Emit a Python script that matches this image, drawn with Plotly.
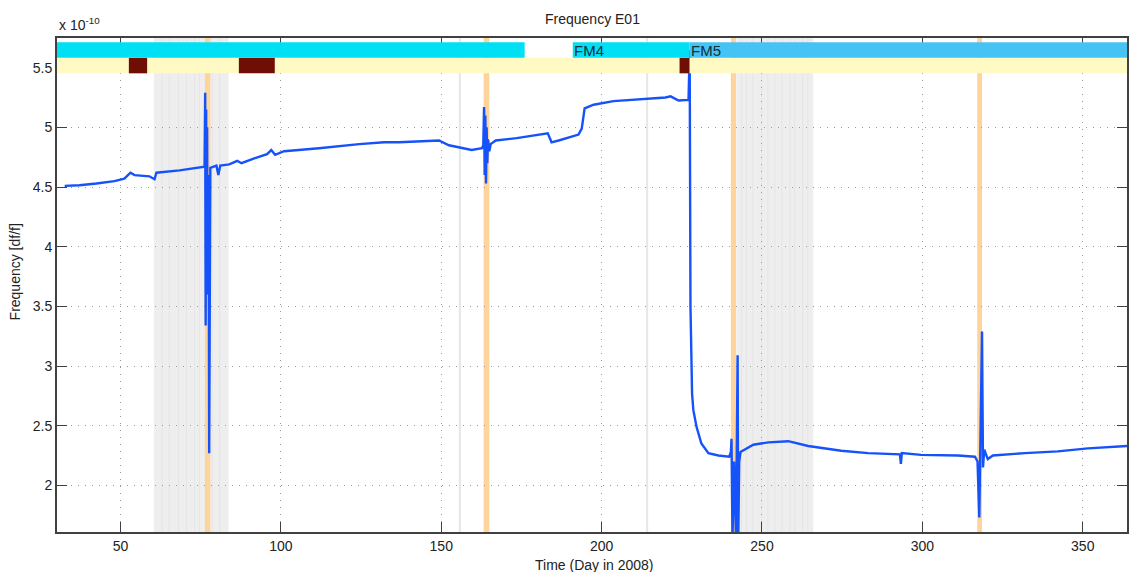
import plotly.graph_objects as go

# ---------------- data (frequency in units of 1e-10) ----------------
days = [32.6, 37.2, 42.5, 48.1, 51.2, 53.1, 54.4, 59.0, 60.6, 61.2, 68.4, 75.8,
        76.2, 76.4, 76.55, 76.7, 76.85, 77.0, 77.15, 77.3, 77.5, 77.65, 77.8, 78.0,
        79.9, 80.5, 81.1, 83.9, 86.4, 87.7, 91.7, 95.7, 97.0, 98.2, 101.0, 111.9,
        124.4, 132.2, 136.8, 143.1, 149.3, 152.4, 159.5, 162.7,
        163.1, 163.35, 163.55, 163.75, 163.95, 164.15, 164.35, 164.6, 165.0, 165.4,
        167.0, 173.5, 180.4, 183.2, 184.4, 186.6, 192.8, 193.8, 194.7, 197.5, 203.7,
        211.5, 219.9, 221.5, 224.0, 227.1,
        227.45, 227.7, 228.2, 228.6, 229.6, 231.1, 233.3, 236.4, 239.8,
        240.3, 240.5, 240.8, 241.3, 241.9, 242.4, 242.6, 242.9, 243.3,
        247.3, 252.0, 258.2, 264.4, 274.7, 283.1, 290.3, 293.0, 293.3, 293.6,
        299.6, 311.1, 316.4,
        317.2, 317.75, 318.1, 318.6, 318.9, 319.3, 320.4, 322.0, 332.0, 342.2,
        351.6, 363.8]
freq = [4.51, 4.515, 4.53, 4.55, 4.57, 4.62, 4.60, 4.59, 4.565, 4.62, 4.64, 4.665,
        4.67, 5.29, 3.34, 5.15, 3.6, 5.0, 3.8, 4.6, 4.3, 2.27, 4.0, 4.66,
        4.68, 4.60, 4.68, 4.69, 4.72, 4.70, 4.74, 4.775, 4.81, 4.77, 4.80, 4.825,
        4.86, 4.875, 4.875, 4.885, 4.89, 4.85, 4.81, 4.825,
        4.85, 5.17, 4.6, 5.1, 4.53, 5.0, 4.7, 4.9, 4.8, 4.86,
        4.89, 4.91, 4.935, 4.95, 4.875, 4.89, 4.94, 4.99, 5.16, 5.19, 5.22,
        5.235, 5.25, 5.26, 5.225, 5.23,
        5.65, 3.5, 2.77, 2.63, 2.49, 2.35, 2.27, 2.25, 2.24,
        2.28, 2.39, 1.55, 2.2, 1.55, 3.09, 1.55, 2.2, 2.28,
        2.34, 2.36, 2.37, 2.33, 2.29, 2.27, 2.26, 2.26, 2.18, 2.27,
        2.255, 2.25, 2.24,
        2.2, 1.73, 2.25, 3.29, 2.15, 2.3, 2.22, 2.25, 2.27, 2.285,
        2.31, 2.33]

x_ticks = [50, 100, 150, 200, 250, 300, 350]
y_ticks = [2, 2.5, 3, 3.5, 4, 4.5, 5, 5.5]
y_tick_text = ["2", "2.5", "3", "3.5", "4", "4.5", "5", "5.5"]

# event markers
orange_start = [76.3, 163.2, 240.3, 317.1]
orange_end = [78.0, 165.0, 241.9, 318.6]
gray_start = [60.4, 242.0]
gray_end = [83.7, 266.0]
gray_stripes = [63.0, 65.2, 68.1, 70.6, 73.1, 74.6, 78.6, 80.9,
                243.6, 245.2, 247.1, 249.9, 251.8, 254.0, 256.2, 258.7, 260.2, 262.7, 264.3]
gray_lines = [155.8, 214.2]

# top status bars
phase_start = [30.2, 191.0, 227.4]
phase_end = [176.0, 227.4, 363.8]
phase_label = ["", "FM4", "FM5"]
block_start = [52.6, 86.9, 224.3]
block_end = [58.3, 98.1, 227.4]

X_RANGE = [30.2, 363.8]
Y_RANGE = [1.609, 5.749]

FONT = "Liberation Sans, Arial, Helvetica, sans-serif"

fig = go.Figure()
fig.add_trace(go.Scatter(x=days, y=freq, mode="lines",
                         line=dict(color="#1652FA", width=2.4),
                         hoverinfo="skip", showlegend=False))

shapes = []
for a, b in zip(gray_start, gray_end):
    shapes.append(dict(type="rect", xref="x", yref="y", x0=a, x1=b,
                       y0=Y_RANGE[0], y1=Y_RANGE[1], fillcolor="#EEEEEE",
                       line=dict(width=0), layer="below"))
for s in gray_stripes:
    shapes.append(dict(type="line", xref="x", yref="y", x0=s, x1=s,
                       y0=Y_RANGE[0], y1=Y_RANGE[1],
                       line=dict(color="#E5E5E5", width=1), layer="below"))
for s in gray_lines:
    shapes.append(dict(type="line", xref="x", yref="y", x0=s, x1=s,
                       y0=Y_RANGE[0], y1=Y_RANGE[1],
                       line=dict(color="#E6E6E6", width=2), layer="below"))
for a, b in zip(orange_start, orange_end):
    shapes.append(dict(type="rect", xref="x", yref="y", x0=a, x1=b,
                       y0=Y_RANGE[0], y1=Y_RANGE[1], fillcolor="#FFD39C",
                       line=dict(width=0), layer="below"))

# yellow row
shapes.append(dict(type="rect", xref="x", yref="y", x0=X_RANGE[0], x1=X_RANGE[1],
                   y0=5.453, y1=5.583, fillcolor="#FFF9C4",
                   line=dict(width=0), layer="above"))
for a, b in zip(block_start, block_end):
    shapes.append(dict(type="rect", xref="x", yref="y", x0=a, x1=b,
                       y0=5.453, y1=5.583, fillcolor="#6E0E04",
                       line=dict(width=0), layer="above"))
phase_colors = ["#00E0F5", "#00E0F5", "#45C3F5"]
annotations = []
for a, b, lab, c in zip(phase_start, phase_end, phase_label, phase_colors):
    shapes.append(dict(type="rect", xref="x", yref="y", x0=a, x1=b,
                       y0=5.583, y1=5.713, fillcolor=c,
                       line=dict(width=0), layer="above"))
    if lab:
        annotations.append(dict(x=a, y=5.648, xref="x", yref="y", text=lab,
                                showarrow=False, xanchor="left", yanchor="middle",
                                xshift=-1, font=dict(family=FONT, size=15, color="#12303A")))

annotations += [
    dict(text="Frequency E01", x=0.5, y=1.0385, xref="paper", yref="paper",
         showarrow=False, xanchor="center", yanchor="middle",
         font=dict(family=FONT, size=14, color="#222222")),
    dict(text="x 10<sup>-10</sup>", x=0, y=1.028, xref="paper", yref="paper",
         showarrow=False, xanchor="left", yanchor="middle",
         font=dict(family=FONT, size=14, color="#222222")),
    dict(text="Time (Day in 2008)", x=0.502, y=-0.067, xref="paper", yref="paper",
         showarrow=False, xanchor="center", yanchor="middle",
         font=dict(family=FONT, size=14, color="#222222")),
    dict(text="Frequency [df/f]", x=-0.039, y=0.526, xref="paper", yref="paper",
         showarrow=False, xanchor="center", yanchor="middle", textangle=-90,
         font=dict(family=FONT, size=14, color="#222222")),
]

axis_common = dict(showgrid=True, gridcolor="#9A9A9A", griddash="1px,6px", gridwidth=1,
                   ticks="inside", ticklen=10, tickwidth=1.3, tickcolor="#404040",
                   showline=True, linecolor="#404040", linewidth=1.8, mirror="ticks",
                   zeroline=False, tickfont=dict(family=FONT, size=14, color="#222222"))

fig.update_layout(
    width=1129, height=572, autosize=False,
    margin=dict(l=57, r=0, t=38, b=40),
    paper_bgcolor="white", plot_bgcolor="white",
    showlegend=False, shapes=shapes, annotations=annotations,
    xaxis=dict(range=X_RANGE, tickvals=x_ticks, **axis_common),
    yaxis=dict(range=Y_RANGE, tickvals=y_ticks, ticktext=y_tick_text, **axis_common),
)

fig.write_html("out.html", config={"displayModeBar": False},
               post_script="document.body.style.margin='0';")
